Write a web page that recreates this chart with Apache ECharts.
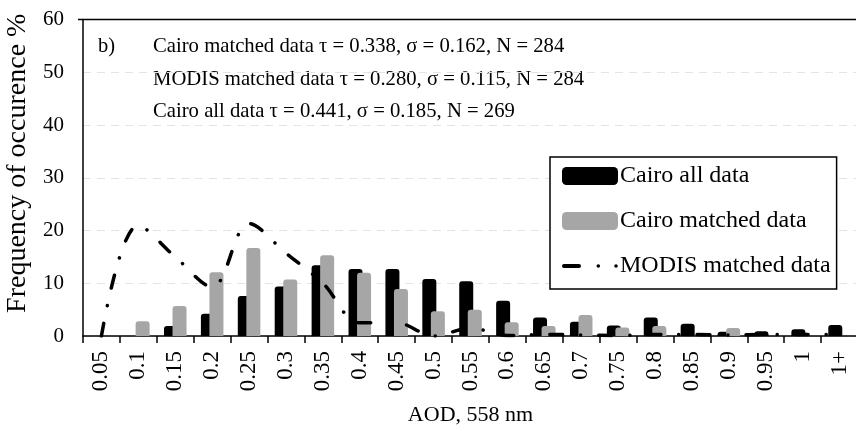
<!DOCTYPE html>
<html>
<head>
<meta charset="utf-8">
<script src="https://cdn.jsdelivr.net/npm/echarts@6/dist/echarts.min.js"></script>
<style>
html,body{margin:0;padding:0;background:#fff;}
#chart{width:856px;height:431px;}
</style>
</head>
<body>
<div id="chart"></div>
<script>
const categories = ['0.05','0.1','0.15','0.2','0.25','0.3','0.35','0.4','0.45','0.5','0.55','0.6','0.65','0.7','0.75','0.8','0.85','0.9','0.95','1','1+'];
const cairoAll = [0, 0, 1.9, 4.2, 7.6, 9.4, 13.4, 12.7, 12.7, 10.8, 10.4, 6.7, 3.5, 2.7, 2.0, 3.5, 2.3, 0.8, 0.9, 1.3, 2.1];
const cairoMatched = [0, 2.8, 5.7, 12.1, 16.7, 10.7, 15.3, 12.0, 8.9, 4.7, 5.0, 2.6, 1.9, 4.0, 1.6, 1.9, 0, 1.5, 0, 0, 0];
const modisMatched = [0, 21, 15, 9.3, 21.3, 15.7, 10, 2.5, 2.5, 0, 1.5, 0.1, 0.3, 0.2, 0.1, 0.3, 0.3, 0.2, 0.3, 0.3, 0.3];
const yMin = 0, yMax = 60, yInterval = 10;
const seriesNames = ['Cairo all data', 'Cairo matched data', 'MODIS matched data'];
const annotation = [
  'Cairo matched data \u03c4 = 0.338, \u03c3 = 0.162, N = 284',
  'MODIS matched data \u03c4 = 0.280, \u03c3 = 0.115, N = 284',
  'Cairo all data \u03c4 = 0.441, \u03c3 = 0.185, N = 269'
];
const panelLabel = 'b)';
const xTitle = 'AOD, 558 nm';
const yTitle = 'Frequency of occurence %';

const FONT = '"Liberation Serif", "Times New Roman", serif';
const chart = echarts.init(document.getElementById('chart'), null, {renderer: 'canvas'});
const dashDot = [13, 18, 0.1, 18];
const modisIcon = 'path://M0,0 L0.01,0 L0,0.01 Z M56,18 L55.99,18 L56,17.99 Z ' +
  'M2,7 L17,7 A2,2 0 0 1 17,11 L2,11 A2,2 0 0 1 2,7 Z ' +
  'M34.5,9 A1.8,1.8 0 1 1 38.1,9 A1.8,1.8 0 1 1 34.5,9 Z ' +
  'M52.2,9 A1.8,1.8 0 1 1 55.8,9 A1.8,1.8 0 1 1 52.2,9 Z';

chart.setOption({
  animation: false,
  backgroundColor: '#fff',
  grid: {left: 83, right: -2, top: 19.5, bottom: 95, outerBoundsMode: 'none', containLabel: false},
  xAxis: {
    type: 'category',
    data: categories,
    boundaryGap: true,
    axisLine: {lineStyle: {color: '#000', width: 1.5}},
    axisTick: {show: true, length: 7, lineStyle: {color: '#000', width: 1.5}},
    axisLabel: {rotate: 90, margin: 15, color: '#000', fontFamily: FONT, fontSize: 23, interval: 0},
    name: xTitle,
    nameLocation: 'middle',
    nameGap: 68,
    nameTextStyle: {color: '#000', fontFamily: FONT, fontSize: 22}
  },
  yAxis: {
    type: 'value',
    min: yMin, max: yMax, interval: yInterval,
    axisLine: {show: true, lineStyle: {color: '#000', width: 1.5}},
    axisTick: {show: false},
    axisLabel: {color: '#000', fontFamily: FONT, fontSize: 21, margin: 19},
    splitLine: {show: true, lineStyle: {color: '#e4e4e4', width: 1.2, type: [8, 6]}},
    name: yTitle,
    nameLocation: 'middle',
    nameRotate: 90,
    nameGap: 50,
    nameTextStyle: {color: '#000', fontFamily: FONT, fontSize: 28, padding: [0, 0, 0, 29]}
  },
  legend: {
    orient: 'vertical',
    left: 550, top: 157,
    padding: [7, 6, 11, 12],
    itemGap: 21,
    itemWidth: 56, itemHeight: 18,
    borderColor: '#000', borderWidth: 1.5,
    backgroundColor: '#fff',
    textStyle: {color: '#000', fontFamily: FONT, fontSize: 24, padding: [0, 0, 0, -3]},
    data: [
      {name: seriesNames[0], icon: 'roundRect'},
      {name: seriesNames[1], icon: 'roundRect'},
      {name: seriesNames[2], icon: modisIcon, itemStyle: {color: '#000', borderWidth: 0}}
    ]
  },
  graphic: [
    {type: 'line', z: 100, shape: {x1: 78, y1: 19.5, x2: 856, y2: 19.5}, style: {stroke: '#000', lineWidth: 1.5}},
    {type: 'text', left: 98, top: 36, style: {text: panelLabel, font: '20.5px ' + FONT, fill: '#000'}},
    {type: 'text', left: 153, top: 36, style: {text: annotation[0], font: '20.7px ' + FONT, fill: '#000'}},
    {type: 'text', left: 153, top: 69, style: {text: annotation[1], font: '20.7px ' + FONT, fill: '#000'}},
    {type: 'text', left: 153, top: 101, style: {text: annotation[2], font: '20.7px ' + FONT, fill: '#000'}}
  ],
  series: [
    {
      name: seriesNames[0], type: 'bar', data: cairoAll,
      barWidth: 14, barGap: '-39%',
      itemStyle: {color: '#000', borderRadius: [3, 3, 0, 0]}
    },
    {
      name: seriesNames[1], type: 'bar', data: cairoMatched,
      barWidth: 14, barGap: '-39%',
      itemStyle: {color: '#a6a6a6', borderRadius: [3, 3, 0, 0]}
    },
    {
      name: seriesNames[2], type: 'line', data: modisMatched,
      smooth: 0.35, symbol: 'none', showSymbol: false,
      itemStyle: {color: '#000'},
      lineStyle: {color: '#000', width: 3.5, type: dashDot, cap: 'round', join: 'round'},
      z: 5
    }
  ]
});
</script>
</body>
</html>
